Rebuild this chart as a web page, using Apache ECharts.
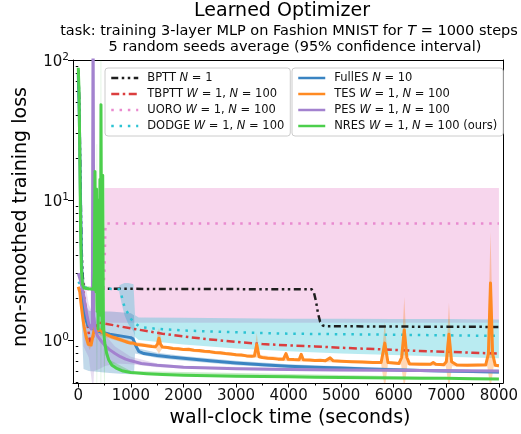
<!DOCTYPE html>
<html>
<head>
<meta charset="utf-8">
<script src="https://cdn.jsdelivr.net/npm/echarts@6/dist/echarts.min.js"></script>
<style>html,body{margin:0;padding:0;background:#fff}#c{width:521px;height:434px}</style>
</head>
<body>
<div id="c"></div>
<script>
// ---------- data (x = wall-clock seconds, y = loss) ----------
const bptt = [[0,85],[20,50],[40,15],[60,5],[80,3],[100,2.45],[130,2.35],[200,2.32],[1000,2.32],[2000,2.31],[3000,2.31],[4000,2.3],[4440,2.3],[4480,2.2],[4520,1.9],[4560,1.55],[4600,1.35],[4650,1.27],[4700,1.255],[5500,1.25],[6500,1.245],[8000,1.24]];
const tbptt = [[0,2.32],[60,2.3],[100,2.2],[140,1.7],[180,1.25],[220,1.0],[245,0.95],[270,1.0],[310,1.2],[350,1.3],[400,1.33],[500,1.31],[700,1.27],[1000,1.21],[1300,1.16],[1600,1.11],[2000,1.06],[2500,1.01],[3000,0.97],[3500,0.935],[4000,0.915],[4500,0.9],[5000,0.88],[5500,0.865],[6000,0.85],[6500,0.835],[7000,0.825],[7500,0.81],[8000,0.8]];
const uoro = [[0,2.3],[300,2.3],[480,2.35],[500,3.2],[515,6.2],[530,6.8],[600,6.8],[8000,6.8]];
const dodge = [[0,2.6],[40,2.5],[80,2.42],[150,2.36],[300,2.33],[600,2.32],[780,2.3],[820,2.1],[860,1.82],[900,1.66],[940,1.56],[1000,1.42],[1070,1.32],[1150,1.26],[1250,1.23],[1500,1.2],[2000,1.17],[2500,1.15],[3000,1.135],[3500,1.12],[4000,1.11],[5000,1.1],[6000,1.09],[7000,1.08],[8000,1.07]];
const fulles = [[0,80],[20,40],[40,12],[60,4],[80,2.2],[100,1.7],[130,1.45],[185,1.27],[300,1.19],[430,1.14],[600,1.1],[800,1.07],[1000,1.04],[1040,1.02],[1070,0.96],[1100,0.9],[1150,0.83],[1250,0.8],[1500,0.775],[1750,0.755],[2000,0.74],[2500,0.71],[3000,0.685],[3500,0.665],[4000,0.65],[4500,0.64],[5000,0.63],[5500,0.62],[6000,0.612],[6500,0.605],[7000,0.6],[7500,0.595],[8000,0.59]];
const tes = [[0,2.4],[30,2.2],[50,1.85],[80,1.5],[110,1.25],[150,1.05],[190,0.93],[220,0.9],[245,0.92],[275,1.05],[310,1.22],[340,1.2],[370,1.16],[420,1.18],[470,1.12],[550,1.09],[650,1.05],[750,1.02],[850,0.99],[950,0.96],[1000,0.95],[1050,0.95],[1100,0.93],[1200,0.92],[1300,0.91],[1400,0.9],[1470,0.895],[1510,0.94],[1535,1.03],[1560,0.94],[1600,0.89],[1700,0.885],[1800,0.87],[1900,0.865],[2000,0.855],[2100,0.858],[2200,0.845],[2300,0.84],[2400,0.83],[2500,0.826],[2600,0.815],[2700,0.81],[2800,0.8],[2900,0.795],[3000,0.785],[3100,0.78],[3200,0.77],[3300,0.765],[3350,0.77],[3395,0.93],[3440,0.76],[3500,0.75],[3600,0.74],[3700,0.737],[3800,0.73],[3900,0.728],[3950,0.8],[3990,0.73],[4100,0.725],[4200,0.722],[4240,0.79],[4280,0.722],[4400,0.72],[4500,0.715],[4600,0.716],[4700,0.71],[4790,0.745],[4850,0.71],[5000,0.705],[5200,0.7],[5400,0.695],[5600,0.692],[5760,0.69],[5830,0.95],[5890,0.69],[6000,0.685],[6100,0.68],[6150,0.75],[6200,1.18],[6250,0.75],[6300,0.675],[6500,0.67],[6700,0.672],[6750,0.69],[6800,0.67],[6950,0.665],[7000,0.7],[7050,1.1],[7100,0.7],[7200,0.662],[7400,0.66],[7600,0.662],[7750,0.665],[7800,0.8],[7840,2.55],[7880,0.8],[7930,0.66],[8000,0.655]];
const pes = [[0,3],[50,2.6],[100,2.1],[150,1.6],[200,1.3],[250,1.2],[268,1.3],[276,30],[282,200],[288,30],[296,1.5],[320,1.2],[360,1.08],[420,1.0],[500,0.92],[600,0.85],[700,0.8],[800,0.76],[900,0.73],[1000,0.71],[1200,0.68],[1500,0.66],[2000,0.64],[2500,0.63],[3000,0.622],[4000,0.615],[5000,0.61],[6000,0.607],[7000,0.604],[8000,0.6]];
const nres = [[0,88],[15,60],[30,20],[45,6],[60,3.2],[80,2.5],[110,2.35],[200,2.32],[290,2.3],[305,3],[318,16],[328,4],[338,2.2],[348,12],[358,1.6],[368,6],[378,1.2],[390,10],[400,2.5],[412,14],[422,1.5],[432,48],[445,3],[455,1.2],[465,15],[478,1.4],[492,1.05],[510,0.92],[540,0.8],[580,0.72],[640,0.66],[720,0.63],[850,0.6],[1000,0.585],[1300,0.575],[1600,0.567],[2000,0.56],[2500,0.556],[3000,0.552],[3500,0.549],[4000,0.546],[4500,0.543],[5000,0.54],[5500,0.538],[6000,0.536],[6500,0.534],[7000,0.532],[7500,0.529],[8000,0.527]];

// confidence bands: [x, lower, upper]
const uoroBand = [[500,1.33,12.2],[8000,1.33,12.2]];
const dodgeBand = [[780,2.2,2.45],[820,1.85,2.5],[880,1.5,2.55],[950,1.3,2.55],[1050,1.15,2.5],[1080,1.05,1.5],[1150,1.0,1.45],[2000,0.93,1.44],[3000,0.87,1.43],[4000,0.83,1.42],[5000,0.8,1.42],[6000,0.78,1.41],[7000,0.76,1.41],[8000,0.74,1.4]];
const fullesBand = [[60,1.5,8],[100,0.62,2.0],[200,0.6,1.62],[400,0.59,1.6],[600,0.58,1.6],[800,0.575,1.58],[1000,0.57,1.55],[1060,0.57,1.5],[1080,0.8,1.0],[1150,0.79,0.87],[1500,0.745,0.81],[2000,0.71,0.77],[3000,0.66,0.71],[4000,0.63,0.67],[5000,0.61,0.65],[6000,0.595,0.63],[7000,0.585,0.615],[8000,0.575,0.605]];
const pesBand = [[100,0.9,3],[200,0.75,1.8],[260,0.5,1.6],[278,0.45,300],[286,0.45,300],[300,0.6,1.5],[400,0.62,1.3],[500,0.65,1.1],[700,0.68,0.9],[1000,0.67,0.76],[1500,0.64,0.68],[2000,0.625,0.655],[4000,0.6,0.63],[8000,0.587,0.613]];
const tesBand = [[50,1.7,2.0],[150,0.98,1.12],[220,0.85,0.95],[310,1.12,1.32],[500,1.05,1.15],[1000,0.92,0.98],[1470,0.87,0.92],[1535,0.8,1.22],[1600,0.87,0.91],[2000,0.835,0.875],[3000,0.765,0.805],[3350,0.745,0.785],[3395,0.75,1.12],[3440,0.74,0.78],[4000,0.705,0.745],[5000,0.69,0.72],[5760,0.675,0.705],[5830,0.45,1.34],[5890,0.675,0.705],[6140,0.665,0.695],[6200,0.45,2.03],[6260,0.665,0.695],[6990,0.65,0.68],[7050,0.45,1.84],[7110,0.65,0.68],[7780,0.645,0.675],[7840,0.45,5.9],[7900,0.645,0.675],[8000,0.64,0.67]];
const nresBand = [[0,80,95],[60,2.8,3.6],[100,2.3,2.45],[300,2.25,2.4],[345,1.5,3],[352,0.45,25],[358,0.45,25],[365,1.5,3],[424,1.2,2],[428,0.45,300],[435,0.45,300],[440,1.2,3],[485,1.1,1.6],[490,0.45,2],[496,0.45,2],[510,0.85,1.0],[600,0.66,0.72],[1000,0.575,0.6],[8000,0.52,0.535]];

// ticks
const xTickLabels = [0,1000,2000,3000,4000,5000,6000,7000,8000];
const xMinorTicks = [500,1500,2500,3500,4500,5500,6500,7500];
const yTickValues = [1,10,100];
const yMinorTicks = [0.5,0.6,0.7,0.8,0.9,2,3,4,5,6,7,8,9,20,30,40,50,60,70,80,90];

// ---------- chart ----------
const FONT = '"DejaVu Sans", sans-serif';
const XMIN = -100, XMAX = 8080, YMIN = 0.493, YMAX = 100;
const chart = echarts.init(document.getElementById('c'), null, {renderer: 'canvas'});

function band(name, data, color) {
  return {
    type: 'custom', name: name, silent: true, clip: true, z: 1,
    data: data, encode: {x: 0, y: [1, 2]},
    renderItem: function (params, api) {
      if (params.dataIndex !== 0) return null;
      const top = data.map(d => api.coord([d[0], d[2]]));
      const bot = data.map(d => api.coord([d[0], d[1]])).reverse();
      return {type: 'polygon', shape: {points: top.concat(bot)}, style: {fill: color}, silent: true};
    }
  };
}
function line(name, data, color, width, dash) {
  return {
    type: 'line', name: name, data: data, symbol: 'none', showSymbol: false,
    clip: true, z: 2, animation: false,
    lineStyle: {color: color, width: width, type: dash || 'solid', cap: 'butt', join: 'round'},
    itemStyle: {color: color}
  };
}

const C = {
  black: '#1e1e1e', red: '#db3e3e', pink: '#e98acf', cyan: '#2cc3d3',
  blue: '#3a84c2', orange: '#ff8a22', purple: '#a382cf', green: '#4ccf4c'
};
const DASH = {
  BPTT: [7, 3.5, 2.5, 3.5, 2.5, 3.5],
  TBPTT: [8, 3.5, 2.5, 3.5],
  UORO: [2.5, 5.8],
  DODGE: [2.5, 5.8]
};
const legendLabels = {
  BPTT: 'BPTT {i|N} = 1',
  TBPTT: 'TBPTT {i|W} = 1, {i|N} = 100',
  UORO: 'UORO {i|W} = 1, {i|N} = 100',
  DODGE: 'DODGE {i|W} = 1, {i|N} = 100',
  FullES: 'FullES {i|N} = 10',
  TES: 'TES {i|W} = 1, {i|N} = 100',
  PES: 'PES {i|W} = 1, {i|N} = 100',
  NRES: 'NRES {i|W} = 1, {i|N} = 100 (ours)'
};
function legend(left, names) {
  return {
    data: names.map(n => ({name: n, lineStyle: {type: DASH[n] || 'solid', width: 2.5, cap: 'butt'}})),
    orient: 'vertical', left: left, top: 68,
    itemWidth: 27, itemHeight: 14, itemGap: 4, padding: [4, 6, 4, 5],
    backgroundColor: 'rgba(255,255,255,0.85)', borderColor: '#cccccc', borderWidth: 1, borderRadius: 3,
    selectedMode: false,
    itemStyle: {opacity: 0},
    lineStyle: {width: 2.5},
    formatter: n => legendLabels[n],
    textStyle: {fontFamily: FONT, fontSize: 11.5, color: '#111', padding: [0, 0, 0, 4],
      rich: {i: {fontFamily: FONT, fontSize: 11.5, fontStyle: 'italic', color: '#111'}}}
  };
}

const option = {
  animation: false,
  backgroundColor: '#fff',
  textStyle: {fontFamily: FONT},
  grid: {left: 73, right: 14, top: 60, bottom: 51, containLabel: false},
  legend: [
    legend(105, ['BPTT', 'TBPTT', 'UORO', 'DODGE']),
    legend(292, ['FullES', 'TES', 'PES', 'NRES'])
  ],
  xAxis: [
    {type: 'value', min: XMIN, max: XMAX, position: 'bottom',
     axisLine: {show: true, onZero: false, lineStyle: {color: '#000', width: 1}},
     axisTick: {show: true, customValues: xTickLabels, length: 4.5, lineStyle: {color: '#000'}},
     axisLabel: {show: true, customValues: xTickLabels, margin: 6, fontFamily: FONT, fontSize: 15, color: '#111',
       formatter: v => String(v)},
     splitLine: {show: false}},
    {type: 'value', min: XMIN, max: XMAX, position: 'bottom',
     axisLine: {show: false}, axisLabel: {show: false}, splitLine: {show: false},
     axisTick: {show: true, customValues: xMinorTicks, length: 2.5, lineStyle: {color: '#000'}}},
    {type: 'value', min: XMIN, max: XMAX, position: 'top',
     axisLine: {show: true, onZero: false, lineStyle: {color: '#000', width: 1}},
     axisTick: {show: false}, axisLabel: {show: false}, splitLine: {show: false}}
  ],
  yAxis: [
    {type: 'log', logBase: 10, min: YMIN, max: YMAX, position: 'left',
     axisLine: {show: true, onZero: false, lineStyle: {color: '#000', width: 1}},
     axisTick: {show: true, customValues: yTickValues, length: 5, lineStyle: {color: '#000'}},
     axisLabel: {show: true, customValues: yTickValues, margin: 4, color: '#111',
       formatter: v => '{b|10}{s|' + Math.round(Math.log10(v)) + '}',
       rich: {b: {fontFamily: FONT, fontSize: 15, color: '#111', lineHeight: 16, padding: [4, 0, 0, 0]},
              s: {fontFamily: FONT, fontSize: 10.5, color: '#111', lineHeight: 12, padding: [1, 0, 7, 0]}}},
     splitLine: {show: false}},
    {type: 'log', logBase: 10, min: YMIN, max: YMAX, position: 'left',
     axisLine: {show: false}, axisLabel: {show: false}, splitLine: {show: false},
     axisTick: {show: true, customValues: yMinorTicks, length: 2.5, lineStyle: {color: '#000'}}},
    {type: 'value', min: 0, max: 1, position: 'right',
     axisLine: {show: true, onZero: false, lineStyle: {color: '#000', width: 1}},
     axisTick: {show: false}, axisLabel: {show: false}, splitLine: {show: false}}
  ],
  graphic: [
    {type: 'text', x: 282, y: 11, silent: true,
     style: {text: 'Learned Optimizer', fontFamily: FONT, fontSize: 19, fill: '#000', align: 'center', verticalAlign: 'middle'}},
    {type: 'text', x: 289, y: 31, silent: true,
     style: {text: 'task: training 3-layer MLP on Fashion MNIST for {i|T} = 1000 steps', fontFamily: FONT, fontSize: 14.5, fill: '#000', align: 'center', verticalAlign: 'middle',
       rich: {i: {fontFamily: FONT, fontSize: 14.5, fontStyle: 'italic', fill: '#000'}}}},
    {type: 'text', x: 295, y: 47.5, silent: true,
     style: {text: '5 random seeds average (95% confidence interval)', fontFamily: FONT, fontSize: 14.5, fill: '#000', align: 'center', verticalAlign: 'middle'}},
    {type: 'text', x: 21, y: 217, rotation: Math.PI / 2, silent: true,
     style: {text: 'non-smoothed training loss', fontFamily: FONT, fontSize: 19, fill: '#000', align: 'center', verticalAlign: 'middle'}},
    {type: 'text', x: 290, y: 418, silent: true,
     style: {text: 'wall-clock time (seconds)', fontFamily: FONT, fontSize: 19, fill: '#000', align: 'center', verticalAlign: 'middle'}}
  ],
  series: [
    band('uoroBand', uoroBand, 'rgba(227,119,194,0.3)'),
    band('dodgeBand', dodgeBand, 'rgba(23,190,207,0.3)'),
    band('fullesBand', fullesBand, 'rgba(31,119,180,0.28)'),
    band('pesBand', pesBand, 'rgba(148,103,189,0.22)'),
    band('tesBand', tesBand, 'rgba(255,127,14,0.3)'),
    band('nresBand', nresBand, 'rgba(44,180,44,0.25)'),
    line('BPTT', bptt, C.black, 2.5, DASH.BPTT),
    line('TBPTT', tbptt, C.red, 2.5, DASH.TBPTT),
    line('UORO', uoro, C.pink, 2.5, DASH.UORO),
    line('DODGE', dodge, C.cyan, 2.5, DASH.DODGE),
    line('FullES', fulles, C.blue, 3),
    line('TES', tes, C.orange, 3),
    line('PES', pes, C.purple, 3),
    line('NRES', nres, C.green, 3)
  ]
};
chart.setOption(option);
</script>
</body>
</html>
